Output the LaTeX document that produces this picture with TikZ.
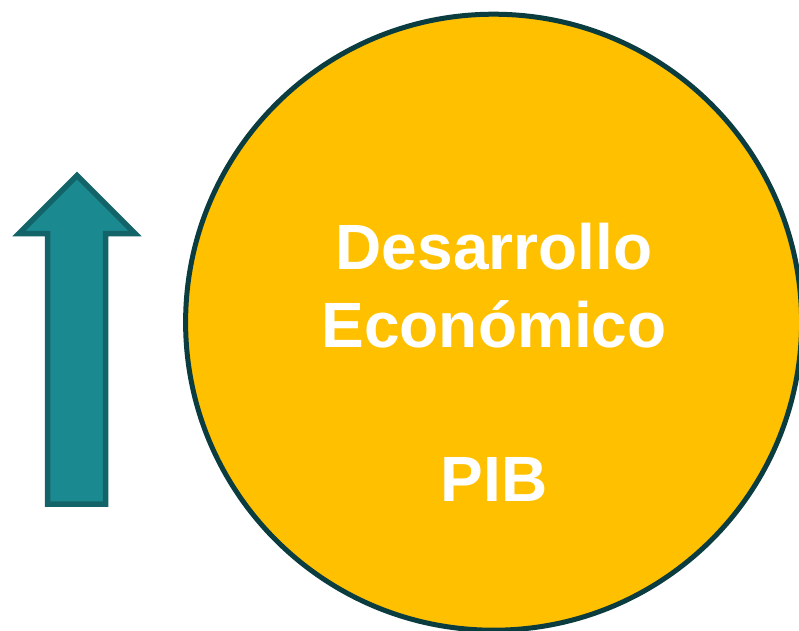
\documentclass[tikz,border=0pt]{standalone}
\usepackage{fontspec}
\setmainfont{Liberation Sans}
\definecolor{ringc}{HTML}{0B3C40}
\definecolor{goldc}{HTML}{FFC000}
\definecolor{tealf}{HTML}{1B8A90}
\definecolor{teald}{HTML}{136469}
\tikzset{px/.style={x=1pt,y=-1pt},
 disc/.style={circle,draw=ringc,fill=goldc,line width=5pt,minimum size=616pt,inner sep=0pt},
 lbl/.style={text=white,font=\fontsize{64}{64}\selectfont\bfseries,anchor=center,inner sep=0pt},
 arrowshape/.style={draw=teald,fill=tealf,line width=5.5pt,line join=miter}}
\begin{document}
\begin{tikzpicture}[px]
\useasboundingbox (0,0) rectangle (799,630);
\fill[white] (0,0) rectangle (799,630);
\clip (0,0) rectangle (799,630);
\node[disc] (c) at (493.6,322.2) {};
\node[lbl] (t1) at (494,247) {Desarrollo};
\node[lbl] (t2) at (494,324.5) {Económico};
\node[lbl] (t3) at (494,479) {PIB};
\draw[arrowshape] (47.5,504) -- (47.5,233.5) -- (19,233.5) -- (77,175.5) -- (135,233.5) -- (105.5,233.5) -- (105.5,504) -- cycle;
\end{tikzpicture}
\end{document}
